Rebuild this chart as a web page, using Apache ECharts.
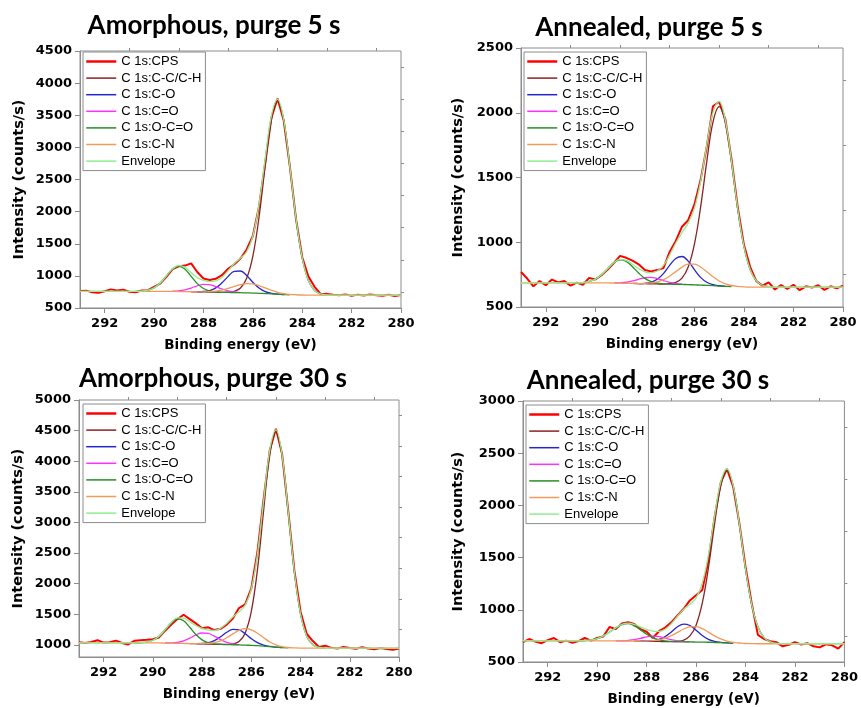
<!DOCTYPE html>
<html>
<head>
<meta charset="utf-8">
<script src="https://cdn.jsdelivr.net/npm/echarts@6/dist/echarts.min.js"></script>
<style>
  html, body { margin: 0; padding: 0; background: #fff; }
  #chart { width: 861px; height: 708px; }
</style>
</head>
<body>
<div id="chart"></div>
<script>
  // binding energy sampling (eV), shared by every spectrum
  const energy = [293, 292.75, 292.5, 292.25, 292, 291.75, 291.5, 291.25, 291, 290.75, 290.5, 290.25, 290, 289.75, 289.5, 289.25, 289, 288.75, 288.5, 288.25, 288, 287.75, 287.5, 287.25, 287, 286.75, 286.5, 286.25, 286, 285.75, 285.5, 285.25, 285, 284.75, 284.5, 284.25, 284, 283.75, 283.5, 283.25, 283, 282.75, 282.5, 282.25, 282, 281.75, 281.5, 281.25, 281, 280.75, 280.5, 280.25, 280]
  const xTicks = [292, 290, 288, 286, 284, 282, 280]
  const xMinorTicks = [291, 289, 287, 285, 283, 281]

  const names = ['C 1s:CPS', 'C 1s:C-C/C-H', 'C 1s:C-O', 'C 1s:C=O', 'C 1s:O-C=O', 'C 1s:C-N', 'Envelope']
  const colors = ['#ff0000', '#8b2323', '#2626cc', '#ff30ff', '#268f26', '#f39a5a', '#90ee90']

  // Amorphous, purge 5 s
  const am5YTicks = [500, 1000, 1500, 2000, 2500, 3000, 3500, 4000, 4500]
  const am5YMinor = [750, 1250, 1750, 2250, 2750, 3250, 3750, 4250]
  const am5Cps = [765, 770, 745, 738, 762, 790, 772, 786, 752, 745, 772, 778, 830, 880, 985, 1105, 1150, 1160, 1195, 1060, 960, 935, 955, 1010, 1110, 1180, 1270, 1410, 1620, 2080, 2760, 3460, 3760, 3420, 2700, 1880, 1290, 990, 830, 715, 720, 705, 700, 712, 690, 708, 695, 712, 700, 692, 706, 688, 703]
  const am5Env = [760, 760, 760, 760, 760, 760, 760, 760, 760, 760, 764, 777, 813, 888, 1000, 1110, 1163, 1132, 1051, 973, 930, 911, 922, 979, 1082, 1193, 1276, 1375, 1617, 2114, 2829, 3491, 3747, 3430, 2697, 1890, 1277, 928, 773, 719, 704, 700, 700, 700, 700, 700, 700, 700, 700, 700, 700, 700, 700]
  const am5CN = [760, 760, 760, 760, 760, 760, 760, 760, 760, 760, 760, 760, 760, 760, 760, 758, 757, 755, 753, 752, 752, 755, 763, 779, 804, 835, 863, 878, 874, 849, 813, 776, 745, 724, 712, 706, 702, 701, 700, 700, 700, 700, 700, 700, 700, 700, 700, 700, 700, 700, 700, 700, 700]
  const am5CC = [753, 751, 750, 748, 746, 744, 746, 759, 811, 962, 1308, 1913, 2710, 3426, 3715, 3416, 2691, 1888, 1277, 928, 773, 719, 704]
  const am5CO = [753, 757, 772, 814, 892, 992, 1070, 1076, 1005, 901, 810, 756, 729, 717, 710]
  const am5CdO = [761, 768, 783, 811, 845, 868, 863, 833, 796, 766, 749, 740]
  const am5OCO = [760, 764, 777, 813, 888, 1000, 1107, 1152, 1104, 993, 879, 803, 765, 750, 744, 742, 740, 738, 735, 733, 729, 725, 720, 715, 710, 706]
  // first energy of the partial components: C-C, C-O, C=O, O-C=O
  const am5From = [288.5, 288.25, 289.25, 290.75]

  // Annealed, purge 5 s
  const an5YTicks = [500, 1000, 1500, 2000, 2500]
  const an5YMinor = [750, 1250, 1750, 2250]
  const an5Cps = [770, 720, 660, 700, 668, 712, 690, 700, 665, 688, 672, 725, 712, 745, 790, 840, 895, 880, 858, 830, 785, 775, 785, 800, 925, 1010, 1120, 1170, 1290, 1480, 1740, 2050, 2085, 1950, 1640, 1270, 980, 810, 700, 665, 690, 635, 670, 640, 672, 630, 660, 650, 668, 632, 660, 645, 665]
  const an5Env = [686, 686, 686, 686, 686, 686, 686, 686, 686, 686, 689, 697, 715, 749, 796, 842, 867, 860, 830, 795, 772, 765, 778, 821, 901, 994, 1075, 1148, 1262, 1469, 1753, 2003, 2088, 1941, 1622, 1259, 968, 790, 702, 668, 657, 653, 653, 653, 653, 653, 653, 653, 653, 653, 653, 653, 653]
  const an5CN = [686, 686, 686, 686, 686, 686, 686, 686, 686, 686, 686, 686, 686, 686, 686, 685, 684, 683, 682, 681, 682, 686, 694, 711, 738, 773, 808, 831, 831, 809, 773, 734, 701, 679, 666, 659, 656, 654, 653, 653, 653, 653, 653, 653, 653, 653, 653, 653, 653, 653, 653, 653, 653]
  const an5CC = [682, 681, 680, 679, 678, 677, 680, 690, 723, 809, 984, 1269, 1623, 1927, 2047, 1922, 1614, 1256, 968, 790, 702, 668, 657]
  const an5CO = [681, 683, 691, 714, 758, 821, 875, 890, 854, 789, 729, 691, 672, 664, 660]
  const an5CdO = [686, 687, 691, 701, 714, 726, 729, 720, 704, 690, 681, 676]
  const an5OCO = [686, 689, 697, 715, 749, 796, 841, 864, 852, 811, 762, 721, 696, 684, 679, 676, 675, 674, 673, 671, 669, 667, 665, 662, 660, 658]
  const an5From = [288.5, 288.25, 289.25, 290.75]

  // Amorphous, purge 30 s
  const am30YTicks = [1000, 1500, 2000, 2500, 3000, 3500, 4000, 4500, 5000]
  const am30YMinor = [1250, 1750, 2250, 2750, 3250, 3750, 4250, 4750]
  const am30Cps = [1040, 1030, 1045, 1075, 1035, 1042, 1068, 1030, 1005, 1065, 1075, 1080, 1090, 1120, 1230, 1330, 1420, 1490, 1420, 1350, 1270, 1285, 1240, 1260, 1330, 1430, 1600, 1660, 1920, 2520, 3380, 4180, 4530, 4120, 3190, 2210, 1540, 1180, 1060, 965, 985, 950, 940, 962, 948, 935, 960, 940, 925, 945, 930, 920, 940]
  const am30Env = [1030, 1030, 1030, 1030, 1030, 1030, 1030, 1030, 1030, 1030, 1033, 1044, 1074, 1141, 1247, 1365, 1438, 1434, 1375, 1313, 1268, 1240, 1233, 1269, 1353, 1454, 1540, 1646, 1909, 2483, 3348, 4182, 4513, 4101, 3170, 2192, 1500, 1141, 1000, 957, 947, 945, 945, 945, 945, 945, 945, 945, 945, 945, 945, 945, 945]
  const am30CN = [1030, 1030, 1030, 1030, 1030, 1030, 1030, 1030, 1030, 1030, 1030, 1030, 1030, 1030, 1028, 1026, 1024, 1022, 1019, 1018, 1017, 1021, 1034, 1064, 1114, 1177, 1235, 1263, 1245, 1189, 1115, 1045, 997, 969, 955, 949, 946, 945, 945, 945, 945, 945, 945, 945, 945, 945, 945, 945, 945, 945, 945, 945, 945]
  const am30CC = [1019, 1017, 1014, 1011, 1008, 1006, 1005, 1012, 1052, 1190, 1544, 2228, 3193, 4100, 4475, 4086, 3165, 2191, 1500, 1141, 1000, 957, 947]
  const am30CO = [1019, 1021, 1034, 1069, 1131, 1204, 1252, 1243, 1181, 1100, 1036, 996, 973, 961, 954]
  const am30CdO = [1029, 1031, 1040, 1065, 1108, 1160, 1192, 1185, 1140, 1084, 1039, 1013, 1001]
  const am30OCO = [1030, 1033, 1044, 1074, 1141, 1246, 1360, 1422, 1391, 1286, 1167, 1080, 1033, 1014, 1008, 1003, 1000, 997, 994, 990, 985, 978, 968, 960, 954, 950]
  const am30From = [288.5, 288.25, 289.5, 290.75]

  // Annealed, purge 30 s
  const an30YTicks = [500, 1000, 1500, 2000, 2500, 3000]
  const an30YMinor = [750, 1250, 1750, 2250, 2750]
  const an30Cps = [690, 720, 695, 680, 710, 730, 690, 705, 685, 700, 730, 705, 730, 745, 835, 815, 870, 880, 865, 815, 790, 730, 795, 830, 880, 945, 1010, 1090, 1140, 1190, 1470, 1890, 2220, 2350, 2180, 1830, 1410, 1060, 760, 720, 700, 690, 650, 665, 690, 668, 680, 650, 640, 670, 660, 628, 690]
  const an30Env = [703, 703, 703, 703, 703, 703, 703, 703, 703, 703, 706, 712, 725, 750, 787, 827, 860, 873, 860, 835, 812, 796, 793, 814, 866, 939, 1006, 1053, 1114, 1256, 1528, 1899, 2227, 2351, 2191, 1821, 1391, 1049, 837, 733, 692, 679, 675, 675, 675, 675, 675, 675, 675, 675, 675, 675, 675]
  const an30CN = [703, 703, 703, 703, 703, 703, 703, 703, 703, 703, 703, 703, 703, 703, 703, 702, 701, 701, 700, 699, 700, 704, 712, 727, 752, 784, 816, 837, 838, 819, 786, 750, 721, 700, 688, 682, 677, 676, 675, 675, 675, 675, 675, 675, 675, 675, 675, 675, 675, 675, 675, 675, 675]
  const an30CC = [700, 699, 698, 698, 697, 696, 695, 698, 710, 750, 853, 1063, 1403, 1826, 2188, 2333, 2184, 1818, 1391, 1049, 837, 733, 692, 679]
  const an30CO = [699, 700, 704, 716, 744, 788, 837, 863, 850, 805, 754, 717, 697, 688, 684, 681]
  const an30CdO = [703, 703, 707, 714, 726, 740, 748, 743, 729, 714, 702, 696, 693]
  const an30OCO = [703, 706, 712, 725, 750, 787, 827, 858, 867, 846, 808, 766, 734, 713, 702, 697, 694, 693, 692, 691, 690, 689, 687, 685, 683, 681]
  const an30From = [288.5, 288.25, 289.25, 290.75]

  // pair a full spectrum with the energy scale
  function full (values) {
    return values.map((v, k) => [energy[k], v])
  }
  // pair a partial component with the energy scale, starting at energy `from`
  function span (from, values) {
    const i0 = energy.indexOf(from)
    return values.map((v, k) => [energy[i0 + k], v])
  }

  const panels = [{
    title: 'Amorphous, purge 5 s', titleX: 214, titleY: 13,
    grid: { left: 80, top: 51, width: 321, height: 257 }, legend: [83, 52],
    yMin: 500, yMax: 4500, yTicks: am5YTicks, yMinor: am5YMinor, nameGap: 53,
    lines: [full(am5Cps), span(am5From[0], am5CC), span(am5From[1], am5CO), span(am5From[2], am5CdO),
      span(am5From[3], am5OCO), full(am5CN), full(am5Env)]
  }, {
    title: 'Annealed, purge 5 s', titleX: 649, titleY: 15,
    grid: { left: 521, top: 48, width: 322, height: 259 }, legend: [524, 52],
    yMin: 500, yMax: 2500, yTicks: an5YTicks, yMinor: an5YMinor, nameGap: 55,
    lines: [full(an5Cps), span(an5From[0], an5CC), span(an5From[1], an5CO), span(an5From[2], an5CdO),
      span(an5From[3], an5OCO), full(an5CN), full(an5Env)]
  }, {
    title: 'Amorphous, purge 30 s', titleX: 213, titleY: 366,
    grid: { left: 79, top: 400, width: 320, height: 257 }, legend: [83, 404],
    yMin: 800, yMax: 5000, yTicks: am30YTicks, yMinor: am30YMinor, nameGap: 53,
    lines: [full(am30Cps), span(am30From[0], am30CC), span(am30From[1], am30CO), span(am30From[2], am30CdO),
      span(am30From[3], am30OCO), full(am30CN), full(am30Env)]
  }, {
    title: 'Annealed, purge 30 s', titleX: 648, titleY: 368,
    grid: { left: 523, top: 401, width: 324, height: 261 }, legend: [526, 405],
    yMin: 500, yMax: 3000, yTicks: an30YTicks, yMinor: an30YMinor, nameGap: 57,
    lines: [full(an30Cps), span(an30From[0], an30CC), span(an30From[1], an30CO), span(an30From[2], an30CdO),
      span(an30From[3], an30OCO), full(an30CN), full(an30Env)]
  }]

  const axisGray = '#8c8c8c'
  const boldLabel = { fontFamily: 'DejaVu Sans', fontWeight: 'bold', fontSize: 13, color: '#000' }
  // legend entries: line only, CPS a bit thicker
  const legendItems = names.map((n, j) => ({ name: n, lineStyle: { width: j === 0 ? 2.5 : 1.5 } }))

  const title = []
  const grid = []
  const legend = []
  const xAxis = []
  const yAxis = []
  const series = []

  panels.forEach((p, k) => {
    title.push({
      text: p.title,
      left: p.titleX,
      top: p.titleY,
      textAlign: 'center',
      padding: 0,
      textStyle: { fontFamily: 'Lato', fontWeight: 'bold', fontSize: 26, color: '#000' }
    })
    grid.push(Object.assign({ show: true, borderColor: axisGray, borderWidth: 1 }, p.grid))
    legend.push({
      orient: 'vertical',
      left: p.legend[0],
      top: p.legend[1],
      data: legendItems,
      selectedMode: false,
      itemWidth: 30,
      itemHeight: 12,
      itemGap: 3.6,
      itemStyle: { opacity: 0 },
      padding: [3, 4, 3, 2],
      borderColor: axisGray,
      borderWidth: 1,
      backgroundColor: '#fff',
      textStyle: { fontFamily: 'Liberation Sans', fontSize: 13, color: '#000' }
    })

    // main x axis with labels and major ticks, then a second one only for minor ticks
    xAxis.push({
      gridIndex: k,
      type: 'value',
      min: 280,
      max: 293,
      inverse: true,
      axisLine: { lineStyle: { color: axisGray } },
      axisTick: { customValues: xTicks, length: 5, lineStyle: { color: axisGray } },
      axisLabel: Object.assign({ customValues: xTicks, margin: 9 }, boldLabel),
      splitLine: { show: false },
      name: 'Binding energy (eV)',
      nameLocation: 'middle',
      nameGap: 30,
      nameTextStyle: { fontFamily: 'DejaVu Sans', fontWeight: 'bold', fontSize: 13.5, color: '#000' }
    }, {
      gridIndex: k,
      type: 'value',
      min: 280,
      max: 293,
      inverse: true,
      axisLine: { show: false },
      axisTick: { customValues: xMinorTicks, length: 3, lineStyle: { color: axisGray } },
      axisLabel: { show: false },
      splitLine: { show: false }
    })
    yAxis.push({
      gridIndex: k,
      type: 'value',
      min: p.yMin,
      max: p.yMax,
      axisLine: { show: true, lineStyle: { color: axisGray } },
      axisTick: { show: true, customValues: p.yTicks, length: 5, lineStyle: { color: axisGray } },
      axisLabel: Object.assign({ customValues: p.yTicks, margin: 8, formatter: v => String(v) }, boldLabel),
      splitLine: { show: false },
      name: 'Intensity (counts/s)',
      nameLocation: 'middle',
      nameGap: p.nameGap,
      nameTextStyle: { fontFamily: 'DejaVu Sans', fontWeight: 'bold', fontSize: 14.5, color: '#000' }
    }, {
      gridIndex: k,
      type: 'value',
      min: p.yMin,
      max: p.yMax,
      axisLine: { show: false },
      axisTick: { show: true, customValues: p.yMinor, length: 3, lineStyle: { color: axisGray } },
      axisLabel: { show: false },
      splitLine: { show: false }
    })

    p.lines.forEach((data, j) => {
      series.push({
        type: 'line',
        name: names[j],
        xAxisIndex: 2 * k,
        yAxisIndex: 2 * k,
        data: data,
        symbol: 'none',
        smooth: j === 0 ? false : 0.4,
        silent: true,
        lineStyle: { color: colors[j], width: j === 0 ? 2 : 1.3 },
        itemStyle: { color: colors[j] }
      })
    })
  })

  const chart = echarts.init(document.getElementById('chart'))
  chart.setOption({
    animation: false,
    backgroundColor: '#fff',
    textStyle: { fontFamily: 'Liberation Sans' },
    title: title,
    grid: grid,
    legend: legend,
    xAxis: xAxis,
    yAxis: yAxis,
    series: series
  })
</script>
</body>
</html>
